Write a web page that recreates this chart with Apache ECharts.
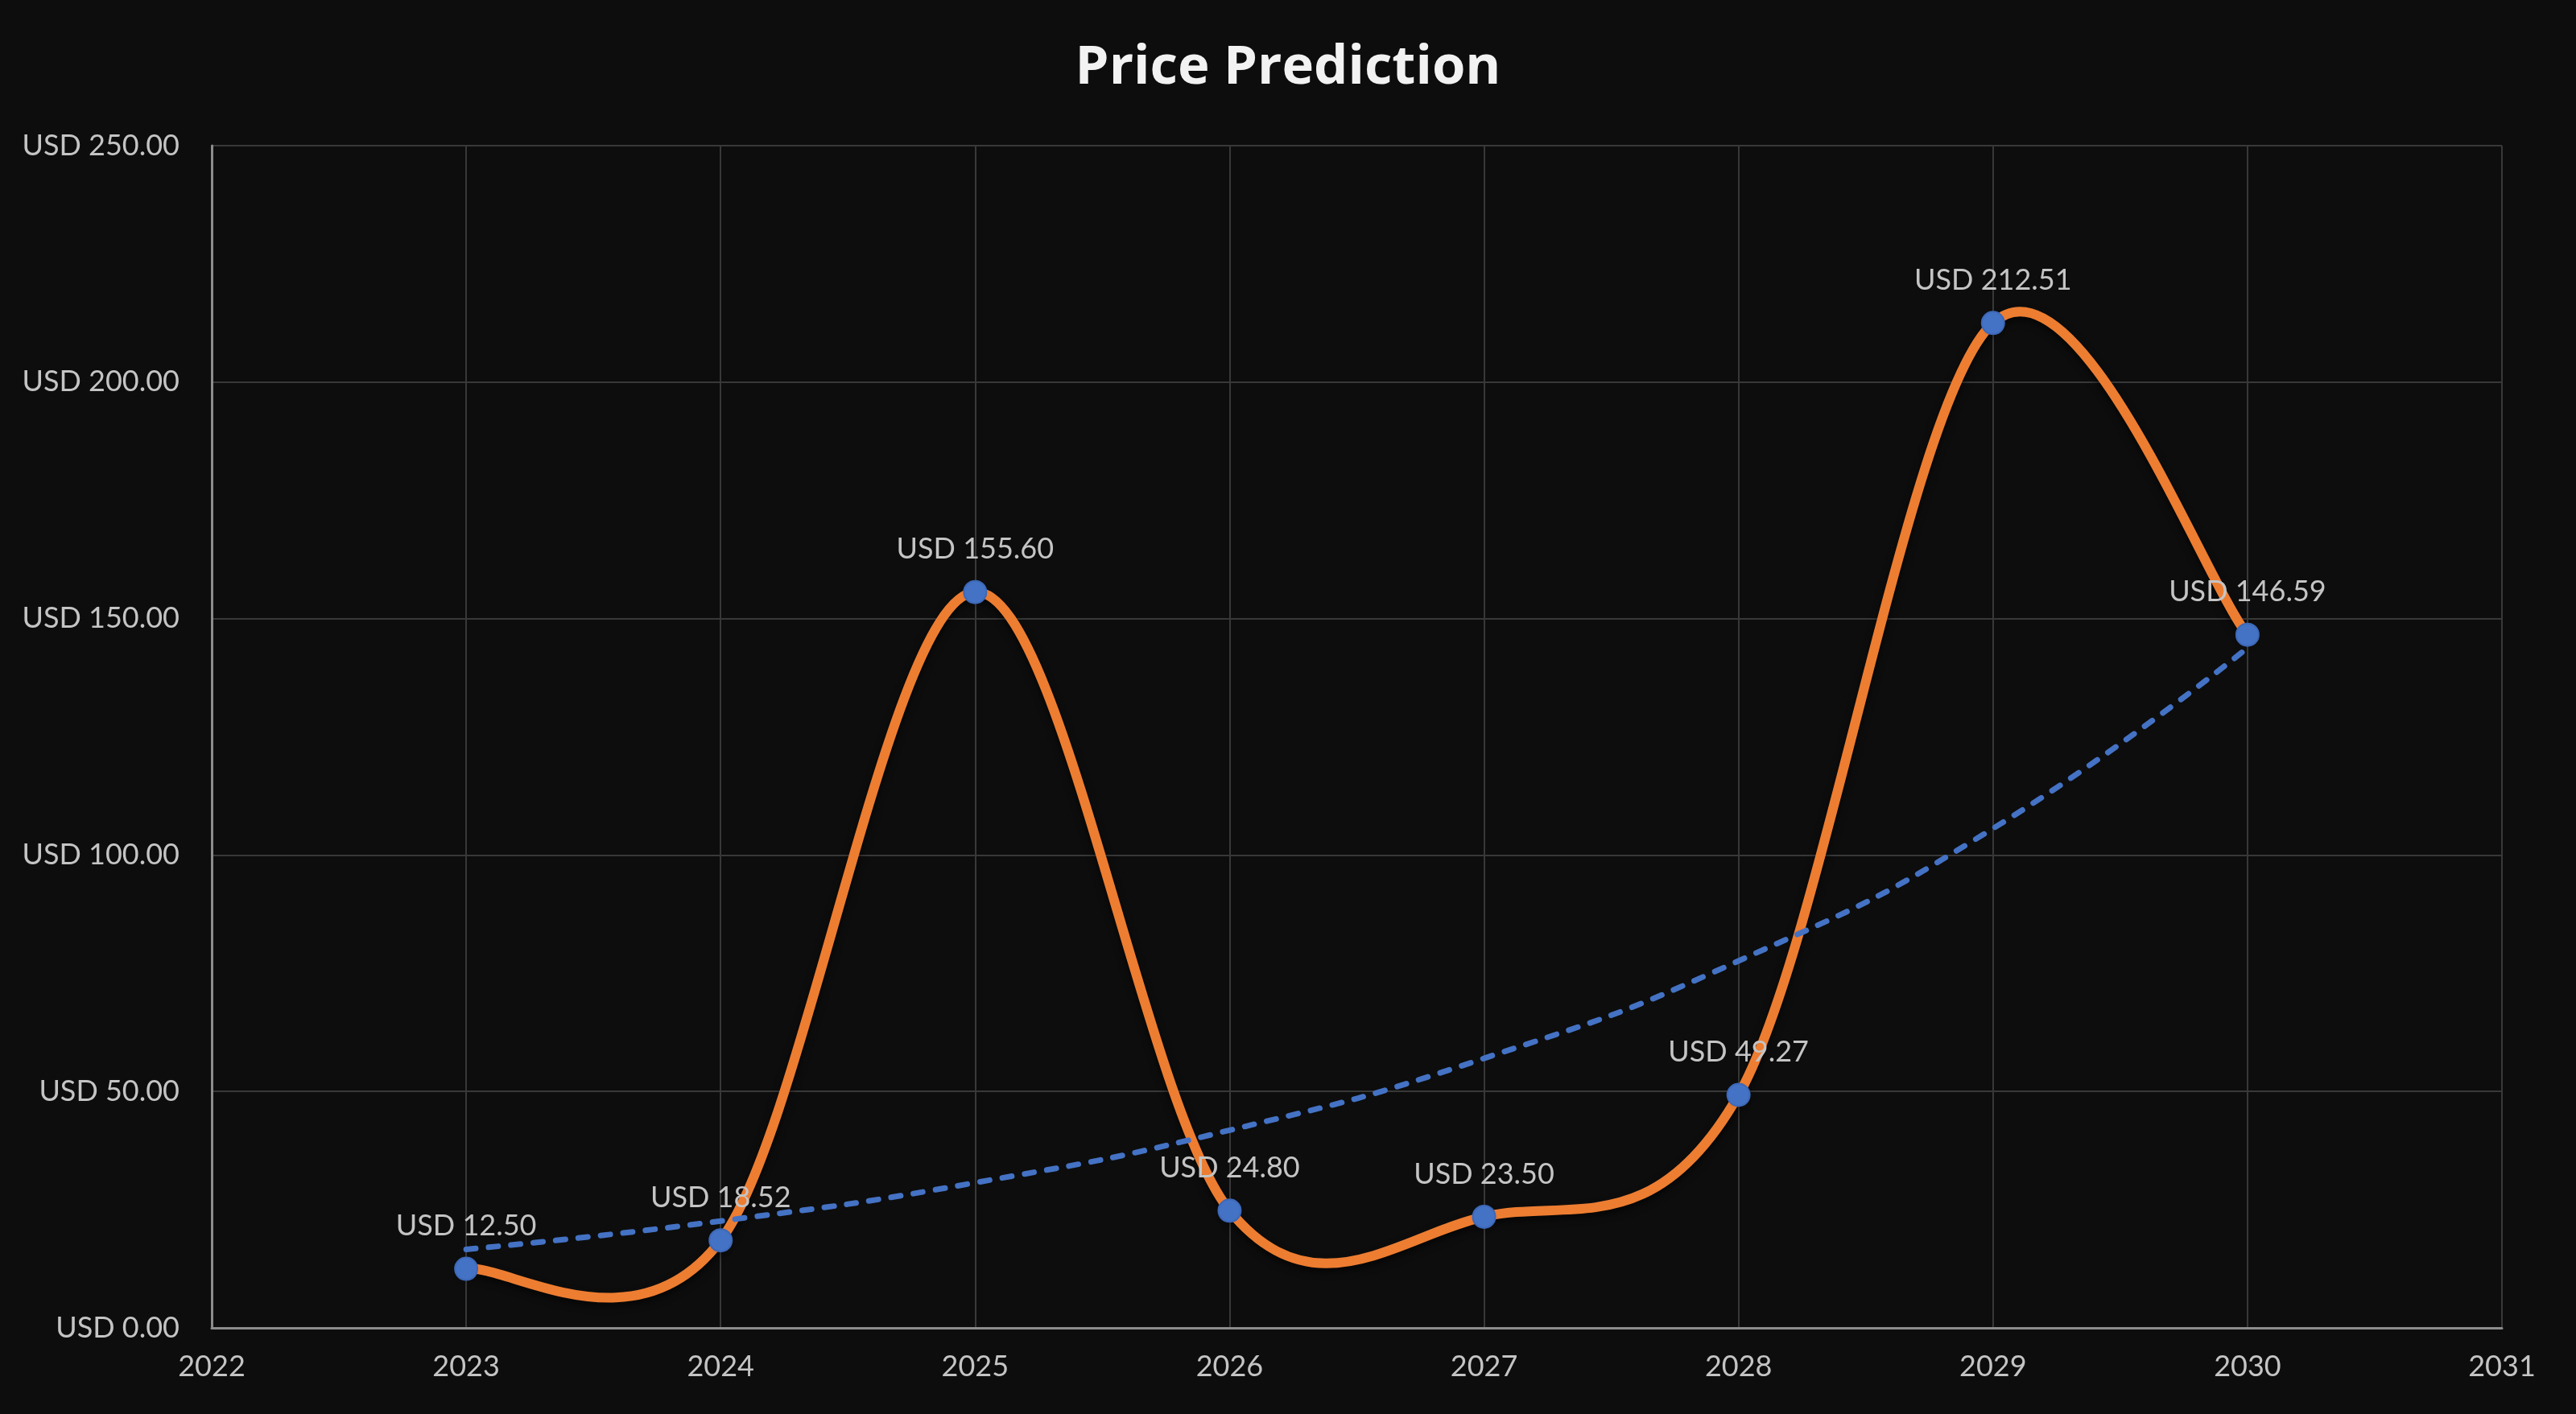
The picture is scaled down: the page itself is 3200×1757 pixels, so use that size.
<!DOCTYPE html>
<html><head><meta charset="utf-8">
<script src="https://cdn.jsdelivr.net/npm/echarts@6/dist/echarts.min.js"></script>
<style>html,body{margin:0;padding:0;background:#0d0d0d;}#c{width:3200px;height:1757px;}</style>
</head><body><div id="c"></div>
<script>
const years = [2023, 2024, 2025, 2026, 2027, 2028, 2029, 2030];
const prices = [12.50, 18.52, 155.60, 24.80, 23.50, 49.27, 212.51, 146.59];
const trend = [16.6, 22.6, 30.7, 41.8, 57.0, 77.6, 105.6, 143.8];
const xMin = 2022, xMax = 2031;
const yTicks = [0, 50, 100, 150, 200, 250];

const usd = v => 'USD ' + Number(v).toFixed(2);
const font = 'Lato, "Open Sans", sans-serif';
const priceData = years.map((y, i) => [y, prices[i]]);

// Smoothed (Catmull-Rom style, like the spreadsheet's smoothed line) curve, one bezier per segment
function renderSegment(params, api) {
  const i = params.dataIndex;
  const n = priceData.length;
  if (i >= n - 1) return null;
  const P = k => api.coord(priceData[Math.max(0, Math.min(n - 1, k))]);
  const p0 = P(i - 1), p1 = P(i), p2 = P(i + 1), p3 = P(i + 2);
  return {
    type: 'bezierCurve',
    shape: {
      x1: p1[0], y1: p1[1], x2: p2[0], y2: p2[1],
      cpx1: p1[0] + (p2[0] - p0[0]) / 6, cpy1: p1[1] + (p2[1] - p0[1]) / 6,
      cpx2: p2[0] - (p3[0] - p1[0]) / 6, cpy2: p2[1] - (p3[1] - p1[1]) / 6
    },
    style: {
      fill: null, stroke: '#ED7D31', lineWidth: 12, lineCap: 'round',
      shadowColor: 'rgba(0,0,0,0.55)', shadowBlur: 10, shadowOffsetY: 5
    }
  };
}

const chart = echarts.init(document.getElementById('c'), null, {renderer: 'canvas'});
chart.setOption({
  backgroundColor: '#0d0d0d',
  animation: false,
  title: {
    text: 'Price Prediction', left: 'center', top: 46,
    textStyle: {color: '#f2f2f2', fontFamily: '"Open Sans", Lato, sans-serif', fontWeight: 'bold', fontSize: 67}
  },
  grid: {left: 263, right: 92, top: 181, bottom: 107, containLabel: false},
  xAxis: {
    type: 'value', min: xMin, max: xMax, interval: 1,
    axisLine: {show: true, onZero: false, lineStyle: {color: '#8c8c8c', width: 3}},
    axisTick: {show: false},
    splitLine: {show: true, lineStyle: {color: '#383838', width: 2}},
    axisLabel: {color: '#c4c4c4', fontFamily: font, fontSize: 36, margin: 30, formatter: v => String(v)}
  },
  yAxis: {
    type: 'value', min: yTicks[0], max: yTicks[yTicks.length - 1], interval: 50,
    axisLine: {show: true, lineStyle: {color: '#8c8c8c', width: 3}},
    axisTick: {show: false},
    splitLine: {show: true, lineStyle: {color: '#383838', width: 2}},
    axisLabel: {color: '#c4c4c4', fontFamily: font, fontSize: 36, margin: 40, formatter: usd}
  },
  series: [
    {
      type: 'custom', name: 'PriceCurve', z: 2,
      renderItem: renderSegment,
      data: priceData,
      silent: true
    },
    {
      type: 'line', name: 'Trend', z: 3,
      data: years.map((y, i) => [y, trend[i]]),
      smooth: 0.5, showSymbol: false, symbol: 'none',
      lineStyle: {color: '#4472C4', width: 7, type: [12, 16], cap: 'round'}
    },
    {
      type: 'line', name: 'Price', z: 4,
      data: priceData,
      lineStyle: {width: 0, opacity: 0},
      symbol: 'circle', symbolSize: 28,
      itemStyle: {color: '#4472C4', borderColor: '#3d68b8', borderWidth: 2},
      label: {show: true, position: 'top', distance: 20, color: '#c4c4c4', fontFamily: font, fontSize: 36,
        formatter: p => usd(p.value[1])},
      labelLayout: {hideOverlap: false}
    }
  ]
});
</script></body></html>
